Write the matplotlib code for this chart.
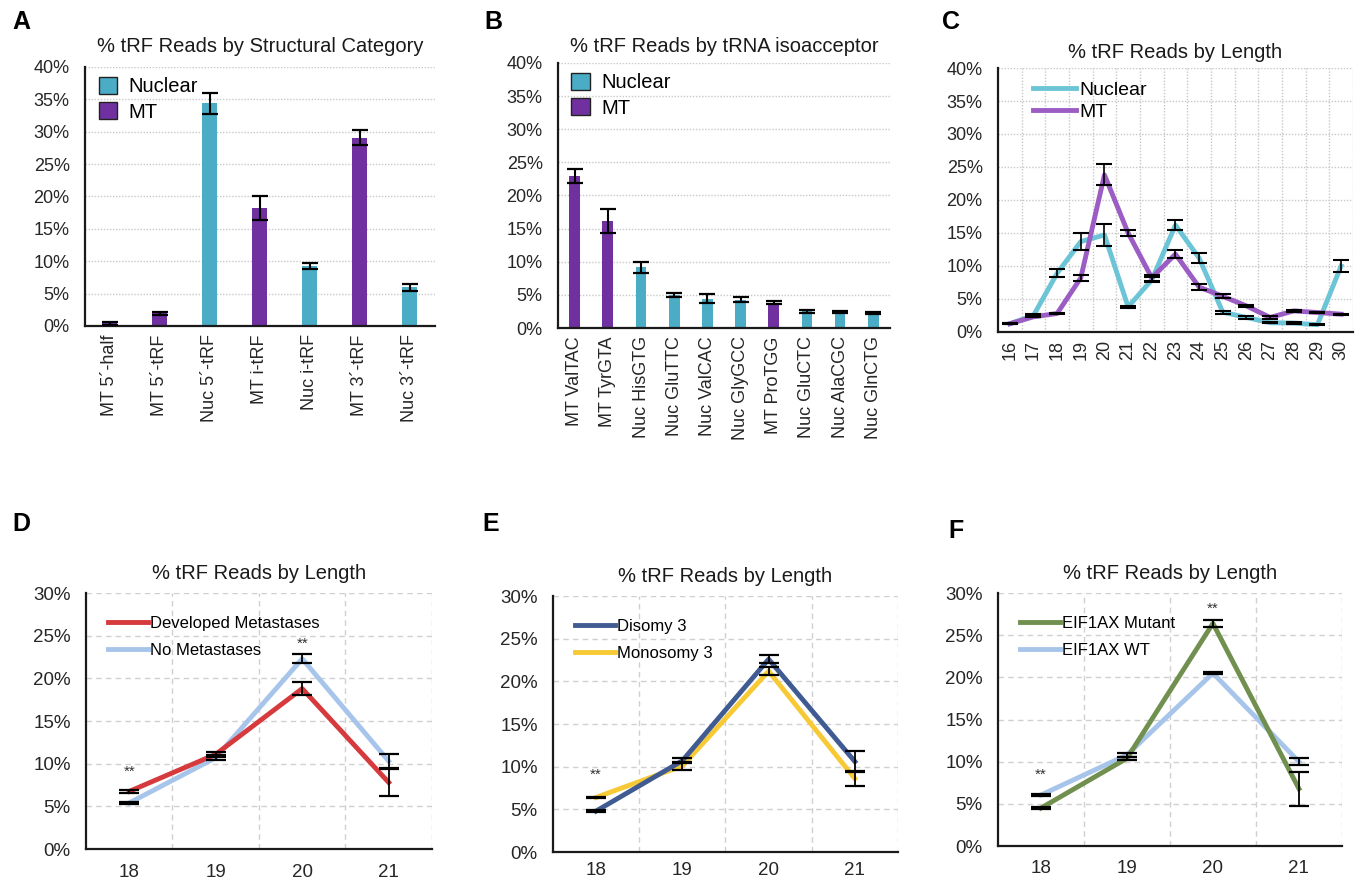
import matplotlib
matplotlib.use("Agg")
import matplotlib.pyplot as plt
from matplotlib.patches import Patch
from matplotlib.ticker import FuncFormatter, MultipleLocator, FixedLocator
import numpy as np

plt.rcParams['font.family'] = ['Liberation Sans', 'DejaVu Sans']

NUC = '#4bacc6'
MTC = '#7030a0'

# Panel A: structural category
cat_a = ["MT 5´-half", "MT 5´-tRF", "Nuc 5´-tRF", "MT i-tRF", "Nuc i-tRF", "MT 3´-tRF", "Nuc 3´-tRF"]
src_a = ["MT", "MT", "Nuc", "MT", "Nuc", "MT", "Nuc"]
val_a = [0.4, 1.95, 34.4, 18.2, 9.3, 29.1, 5.95]
err_a = [0.2, 0.2, 1.6, 1.9, 0.5, 1.1, 0.5]

# Panel B: tRNA isoacceptor
cat_b = ["MT ValTAC", "MT TyrGTA", "Nuc HisGTG", "Nuc GluTTC", "Nuc ValCAC", "Nuc GlyGCC",
         "MT ProTGG", "Nuc GluCTC", "Nuc AlaCGC", "Nuc GlnCTG"]
src_b = ["MT", "MT", "Nuc", "Nuc", "Nuc", "Nuc", "MT", "Nuc", "Nuc", "Nuc"]
val_b = [23.0, 16.1, 9.15, 5.0, 4.4, 4.3, 3.85, 2.5, 2.4, 2.25]
err_b = [1.05, 1.8, 0.8, 0.3, 0.7, 0.4, 0.3, 0.25, 0.2, 0.2]

# Panel C: length, nuclear vs MT
len_c = [16, 17, 18, 19, 20, 21, 22, 23, 24, 25, 26, 27, 28, 29, 30]
nuc_c = [1.25, 2.5, 8.9, 13.7, 14.7, 3.8, 7.9, 16.2, 11.2, 3.0, 2.2, 1.4, 1.35, 1.1, 10.0]
nuc_c_err = [0.1, 0.2, 0.6, 1.3, 1.6, 0.2, 0.4, 0.8, 0.7, 0.2, 0.2, 0.1, 0.1, 0.1, 0.9]
mt_c = [1.25, 2.3, 2.8, 8.2, 23.8, 15.0, 8.2, 11.8, 6.8, 5.4, 3.95, 2.2, 3.2, 2.95, 2.7]
mt_c_err = [0.1, 0.1, 0.15, 0.5, 1.6, 0.5, 0.5, 0.6, 0.4, 0.3, 0.2, 0.2, 0.15, 0.1, 0.1]

# Panels D-F: lengths 18-21
len_def = ["18", "19", "20", "21"]

met_d = [6.75, 11.1, 18.8, 7.8]
met_d_err = [0.2, 0.3, 0.8, 1.6]
nomet_d = [5.4, 10.7, 22.3, 10.3]
nomet_d_err = [0.15, 0.3, 0.5, 0.8]
stars_d = [(0, 9.0), (2, 24.1)]

dis_e = [4.8, 10.7, 22.6, 10.6]
dis_e_err = [0.1, 0.3, 0.5, 1.2]
mono_e = [6.4, 10.1, 21.2, 8.6]
mono_e_err = [0.1, 0.5, 0.5, 0.9]
stars_e = [(0, 9.1)]

mut_f = [4.5, 10.4, 26.4, 6.8]
mut_f_err = [0.1, 0.2, 0.4, 2.0]
wt_f = [6.05, 10.8, 20.5, 10.0]
wt_f_err = [0.1, 0.2, 0.15, 0.4]
stars_f = [(0, 8.5), (2, 28.1)]

pct = FuncFormatter(lambda v, p: f"{v:.0f}%")

fig = plt.figure(figsize=(13.6, 8.82), dpi=100)


def style_axes(ax, ymax, step):
    ax.set_ylim(0, ymax)
    ax.yaxis.set_major_locator(MultipleLocator(step))
    ax.yaxis.set_major_formatter(pct)
    for s in ['top', 'right']:
        ax.spines[s].set_visible(False)
    for s in ['left', 'bottom']:
        ax.spines[s].set_linewidth(1.6)
        ax.spines[s].set_color('#1a1a1a')
    ax.tick_params(axis='both', length=0, labelsize=13, colors='#262626')
    ax.tick_params(axis='y', pad=11)
    ax.tick_params(axis='x', pad=6)
    ax.set_axisbelow(True)


def bar_panel(ax, cats, srcs, vals, errs, title, width, tpad):
    x = np.arange(len(cats))
    colors = [NUC if s == "Nuc" else MTC for s in srcs]
    ax.bar(x, vals, width=width, color=colors, zorder=2)
    ax.errorbar(x, vals, yerr=errs, fmt='none', ecolor='black', elinewidth=1.5,
                capsize=6, capthick=1.6, zorder=3)
    style_axes(ax, 40, 5)
    ax.set_xlim(-0.5, len(cats) - 0.5)
    ax.set_xticks(x)
    ax.set_xticklabels(cats, rotation=90, fontsize=13)
    ax.grid(axis='y', linestyle=(0, (1, 1.2)), color='#c8c8c8', linewidth=1.0)
    ax.set_title(title, fontsize=14.5, pad=tpad, color='#1a1a1a')
    handles = [Patch(facecolor=NUC, edgecolor='#222222', label='Nuclear'),
               Patch(facecolor=MTC, edgecolor='#222222', label='MT')]
    ax.legend(handles=handles, loc='upper left', frameon=False, fontsize=14.5,
              handlelength=0.9, handleheight=0.9, handletextpad=0.6,
              labelspacing=0.3, borderaxespad=0.1, bbox_to_anchor=(0.01, 1.0))


# A
axA = fig.add_axes([0.0625, 0.6304, 0.257, 0.2937])
bar_panel(axA, cat_a, src_a, val_a, err_a, "% tRF Reads by Structural Category", 0.3, 11)

# B
axB = fig.add_axes([0.4103, 0.6281, 0.2441, 0.3005])
bar_panel(axB, cat_b, src_b, val_b, err_b, "% tRF Reads by tRNA isoacceptor", 0.32, 8)

# C
axC = fig.add_axes([0.7338, 0.6236, 0.261, 0.2993])
xc = np.arange(len(len_c))
axC.plot(xc, nuc_c, color='#6cc5d6', linewidth=3.5, zorder=2, label='Nuclear')
axC.plot(xc, mt_c, color='#9b5cc4', linewidth=3.5, zorder=2, label='MT')
axC.errorbar(xc, nuc_c, yerr=nuc_c_err, fmt='none', ecolor='black', elinewidth=1.2,
             capsize=6, capthick=1.5, zorder=3)
axC.errorbar(xc, mt_c, yerr=mt_c_err, fmt='none', ecolor='black', elinewidth=1.2,
             capsize=6, capthick=1.5, zorder=3)
style_axes(axC, 40, 5)
axC.set_xlim(-0.5, len(len_c) - 0.5)
axC.set_xticks(xc)
axC.set_xticklabels([str(v) for v in len_c], rotation=90, fontsize=13)
axC.xaxis.set_minor_locator(FixedLocator(np.arange(0.5, len(len_c), 1.0)))
axC.tick_params(axis='x', which='minor', length=0)
axC.grid(axis='y', linestyle=(0, (1, 1.2)), color='#c8c8c8', linewidth=1.0)
axC.grid(axis='x', which='minor', linestyle=(0, (1, 1.2)), color='#c8c8c8', linewidth=1.0)
axC.set_title("% tRF Reads by Length", fontsize=14.5, pad=7, color='#1a1a1a')
axC.legend(loc='upper left', frameon=False, fontsize=14, handlelength=2.2,
           handletextpad=0.2, labelspacing=0.2, borderaxespad=0.3,
           bbox_to_anchor=(0.06, 1.0))


def line_panel(ax, s1, e1, c1, l1, s2, e2, c2, l2, stars, xpad):
    x = np.arange(len(len_def))
    ax.plot(x, s1, color=c1, linewidth=3.5, zorder=3, label=l1)
    ax.plot(x, s2, color=c2, linewidth=3.5, zorder=2, label=l2)
    ax.errorbar(x, s1, yerr=e1, fmt='none', ecolor='black', elinewidth=1.3,
                capsize=7, capthick=1.6, zorder=4)
    ax.errorbar(x, s2, yerr=e2, fmt='none', ecolor='black', elinewidth=1.3,
                capsize=7, capthick=1.6, zorder=4)
    style_axes(ax, 30, 5)
    ax.set_xlim(-0.5, len(len_def) - 0.5)
    ax.set_xticks(x)
    ax.set_xticklabels(len_def, fontsize=13.5)
    ax.tick_params(axis='y', labelsize=13.5)
    ax.tick_params(axis='x', pad=xpad)
    ax.xaxis.set_minor_locator(FixedLocator(np.arange(0.5, len(len_def) + 0.1, 1.0)))
    ax.tick_params(axis='x', which='minor', length=0)
    ax.grid(axis='y', linestyle=(0, (4, 3)), color='#d0d0d0', linewidth=1.0)
    ax.grid(axis='x', which='minor', linestyle=(0, (4, 3)), color='#d0d0d0', linewidth=1.0)
    for sx, sy in stars:
        ax.text(sx, sy, "**", ha='center', va='center', fontsize=11, color='#333333')
    ax.set_title("% tRF Reads by Length", fontsize=14.5, pad=10, color='#1a1a1a')
    ax.legend(loc='upper left', frameon=False, fontsize=12, handlelength=2.4,
              handletextpad=0.15, labelspacing=0.75, borderaxespad=0.5,
              bbox_to_anchor=(0.02, 0.97))


axD = fig.add_axes([0.0632, 0.0374, 0.2544, 0.2902])
line_panel(axD, met_d, met_d_err, '#d63a3d', 'Developed Metastases',
           nomet_d, nomet_d_err, '#a7c5ea', 'No Metastases', stars_d, 11)

axE = fig.add_axes([0.4066, 0.034, 0.2537, 0.2902])
line_panel(axE, dis_e, dis_e_err, '#3f5b92', 'Disomy 3',
           mono_e, mono_e_err, '#f7c935', 'Monosomy 3', stars_e, 7)

axF = fig.add_axes([0.7338, 0.0408, 0.2529, 0.2868])
line_panel(axF, mut_f, mut_f_err, '#71904f', 'EIF1AX Mutant',
           wt_f, wt_f_err, '#a7c5ea', 'EIF1AX WT', stars_f, 10)

# panel letters
for letter, (px, py) in {'A': (12, 22), 'B': (484, 22), 'C': (942, 22),
                         'D': (12, 524), 'E': (482, 524), 'F': (948, 531)}.items():
    fig.text(px / 1360, 1 - py / 882, letter, fontsize=18, fontweight='bold',
             ha='left', va='center', color='black')

fig.savefig("out.png", dpi=100)
